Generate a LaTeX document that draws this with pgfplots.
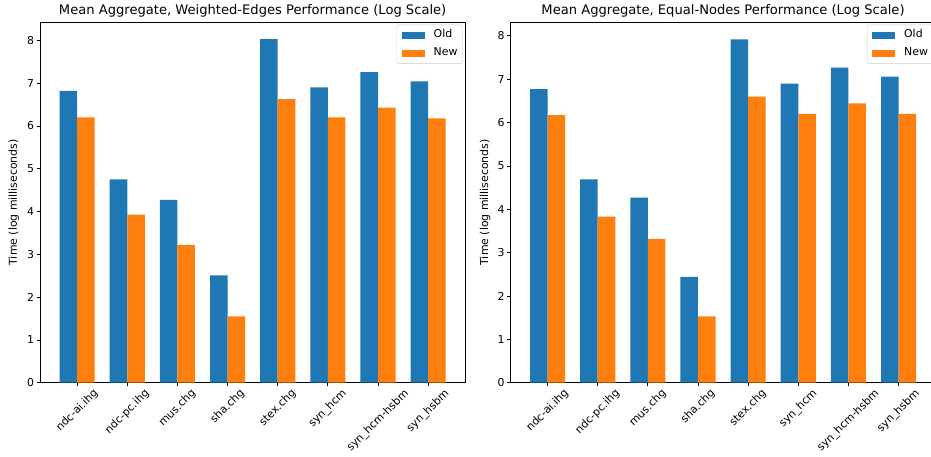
\documentclass[border=0pt]{standalone}
\usepackage{fontspec}
\setmainfont{DejaVu Sans}
\usepackage{graphicx}
\usepackage{pgfplots}
\pgfplotsset{compat=1.18}
\definecolor{tabblue}{RGB}{31,119,180}
\definecolor{taborange}{RGB}{255,127,14}
\newcommand\rl[1]{\rotatebox{45}{#1}}
\pgfplotsset{
  leg/.style={legend image code/.code={\fill[##1, sharp corners, fill opacity=1] (0pt,-3.5pt) rectangle (23pt,3.5pt);}},
  mybars/.style={
    scale only axis, width=424.7pt, height=360.7pt,
    xmin=-0.735, xmax=7.735, ymin=0,
    xtick={0,...,7}, ytick={0,...,8},
    xticklabels={\rl{ndc-ai.ihg},\rl{ndc-pc.ihg},\rl{mus.chg},\rl{sha.chg},\rl{stex.chg},\rl{syn\_hcm},\rl{syn\_hcm-hsbm},\rl{syn\_hsbm}},
    tick pos=left, tick align=outside, major tick length=3.5pt,
    every tick/.style={black, line width=0.8pt},
    axis line style={line width=0.8pt},
    /pgf/number format/assume math mode=true,
    tick label style={font=\fontsize{10.9}{13}\selectfont},
    xticklabel style={anchor=north, inner sep=1.5pt},
    yticklabel style={inner sep=2.5pt},
    label style={font=\fontsize{10.9}{13}\selectfont},
    ylabel={Time (log milliseconds)},
    title style={font=\fontsize{13.1}{15}\selectfont, at={(axis description cs:0.5,1)}, anchor=base, yshift=1pt},
    legend style={at={(axis description cs:0.9946,0.9925)}, anchor=north east,
      draw=black!20, rounded corners=2pt, fill=white, fill opacity=0.8, text opacity=1,
      font=\fontsize{10.9}{13}\selectfont, inner xsep=5pt, inner ysep=5pt, row sep=7.5pt,
      nodes={inner sep=0pt, text height=8pt, text depth=2.5pt},
      /tikz/every odd column/.append style={column sep=9pt}},
    legend cell align=left,
    ybar, bar width=0.35,
  }
}
\begin{document}
\begin{tikzpicture}
\useasboundingbox (0,0) rectangle (931pt,457pt);
\clip (0,0) rectangle (931pt,457pt);
\begin{axis}[mybars, at={(40.3pt,74.3pt)}, anchor=south west, ymax=8.43,
  ylabel style={at={(axis description cs:-0.062,0.5)}, anchor=center},
  title={Mean Aggregate, Weighted-Edges Performance (Log Scale)}]
\addplot[fill=tabblue, draw=none, bar shift=-0.175, leg] coordinates {
  (0,6.82) (1,4.75) (2,4.27) (3,2.51) (4,8.03) (5,6.90) (6,7.26) (7,7.04)};
\addplot[fill=taborange, draw=none, bar shift=0.175, leg] coordinates {
  (0,6.20) (1,3.93) (2,3.22) (3,1.55) (4,6.63) (5,6.20) (6,6.43) (7,6.18)};
\legend{Old,New}
\end{axis}
\begin{axis}[mybars, at={(510.7pt,74.3pt)}, anchor=south west, ymax=8.32,
  ylabel style={at={(axis description cs:-0.0605,0.5)}, anchor=center},
  title={Mean Aggregate, Equal-Nodes Performance (Log Scale)}]
\addplot[fill=tabblue, draw=none, bar shift=-0.175, leg] coordinates {
  (0,6.77) (1,4.69) (2,4.27) (3,2.44) (4,7.92) (5,6.90) (6,7.27) (7,7.06)};
\addplot[fill=taborange, draw=none, bar shift=0.175, leg] coordinates {
  (0,6.17) (1,3.83) (2,3.32) (3,1.53) (4,6.60) (5,6.20) (6,6.44) (7,6.20)};
\legend{Old,New}
\end{axis}
\end{tikzpicture}
\end{document}
